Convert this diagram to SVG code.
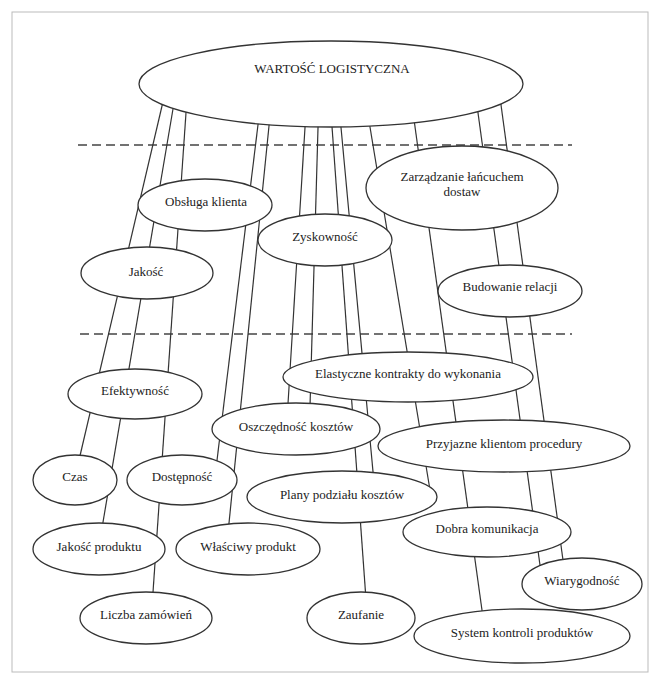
<svg xmlns="http://www.w3.org/2000/svg" width="661" height="685" viewBox="0 0 661 685">
<style>
.n ellipse{fill:#fff;stroke:#333;stroke-width:1.3}
.n text{font-family:"Liberation Serif","Times New Roman",serif;font-size:13px;fill:#222;text-anchor:middle}
.c line{stroke:#333;stroke-width:1.2}
.d{stroke:#444;stroke-width:1.3;stroke-dasharray:9 5}
</style>
<rect x="0" y="0" width="661" height="685" fill="#fff"/>
<rect x="12" y="12" width="636" height="660" fill="none" stroke="#bbb" stroke-width="1"/>
<g id="dividers">
<line class="d" x1="78" y1="145" x2="572" y2="145"/>
<line class="d" x1="80" y1="334" x2="572" y2="334"/>
</g>
<g class="c" id="connectors">
<line x1="163.4" y1="100" x2="79" y2="460"/>
<line x1="174" y1="103" x2="102" y2="528"/>
<line x1="186.4" y1="107" x2="152.6" y2="598"/>
<line x1="258.7" y1="119" x2="216.3" y2="466"/>
<line x1="269.6" y1="120" x2="228.5" y2="528"/>
<line x1="305.4" y1="121" x2="287.6" y2="410"/>
<line x1="318.2" y1="121" x2="309.9" y2="410"/>
<line x1="331.6" y1="121" x2="365.9" y2="598"/>
<line x1="340.4" y1="121" x2="373.6" y2="478"/>
<line x1="369" y1="121" x2="430" y2="490"/>
<line x1="414.2" y1="121" x2="482.8" y2="616"/>
<line x1="477.2" y1="107" x2="540.8" y2="571"/>
<line x1="500.2" y1="99" x2="563.8" y2="566"/>
</g>
<g class="n" id="wartosc"><ellipse cx="331" cy="84" rx="192" ry="43"/><text x="332" y="73">WARTOŚĆ LOGISTYCZNA</text></g>
<g class="n" id="obsluga"><ellipse cx="205" cy="205" rx="67" ry="26"/><text x="206" y="206">Obsługa klienta</text></g>
<g class="n" id="zyskownosc"><ellipse cx="325" cy="240" rx="67" ry="26"/><text x="325" y="241">Zyskowność</text></g>
<g class="n" id="jakosc"><ellipse cx="147" cy="273" rx="66" ry="26"/><text x="146" y="276">Jakość</text></g>
<g class="n" id="zarzadzanie"><ellipse cx="462" cy="188" rx="96" ry="42"/><text x="462" y="181">Zarządzanie łańcuchem</text><text x="462" y="196">dostaw</text></g>
<g class="n" id="budowanie"><ellipse cx="510" cy="291" rx="72" ry="26"/><text x="510" y="291">Budowanie relacji</text></g>
<g class="n" id="efektywnosc"><ellipse cx="135" cy="394" rx="67" ry="25"/><text x="135" y="395">Efektywność</text></g>
<g class="n" id="elastyczne"><ellipse cx="408" cy="377" rx="125" ry="25"/><text x="408" y="378">Elastyczne kontrakty do wykonania</text></g>
<g class="n" id="oszczednosc"><ellipse cx="296" cy="429" rx="84" ry="26"/><text x="296" y="431">Oszczędność kosztów</text></g>
<g class="n" id="przyjazne"><ellipse cx="504" cy="446" rx="126" ry="26"/><text x="504" y="448">Przyjazne klientom procedury</text></g>
<g class="n" id="czas"><ellipse cx="75" cy="480" rx="42" ry="25"/><text x="75" y="481">Czas</text></g>
<g class="n" id="dostepnosc"><ellipse cx="182" cy="480" rx="55" ry="25"/><text x="182" y="481">Dostępność</text></g>
<g class="n" id="plany"><ellipse cx="342" cy="497" rx="95" ry="26"/><text x="342" y="499">Plany podziału kosztów</text></g>
<g class="n" id="dobra"><ellipse cx="487" cy="532" rx="84" ry="25"/><text x="487" y="533">Dobra komunikacja</text></g>
<g class="n" id="jakosc-produktu"><ellipse cx="99" cy="549" rx="66" ry="26"/><text x="99" y="551">Jakość produktu</text></g>
<g class="n" id="wlasciwy"><ellipse cx="248" cy="549" rx="72" ry="26"/><text x="248" y="551">Właściwy produkt</text></g>
<g class="n" id="wiarygodnosc"><ellipse cx="582" cy="584" rx="60" ry="26"/><text x="582" y="585">Wiarygodność</text></g>
<g class="n" id="liczba"><ellipse cx="146" cy="618" rx="66" ry="26"/><text x="146" y="619">Liczba zamówień</text></g>
<g class="n" id="zaufanie"><ellipse cx="361" cy="618" rx="54" ry="26"/><text x="361" y="619">Zaufanie</text></g>
<g class="n" id="system"><ellipse cx="522" cy="636" rx="108" ry="27"/><text x="522" y="637">System kontroli produktów</text></g>
</svg>
